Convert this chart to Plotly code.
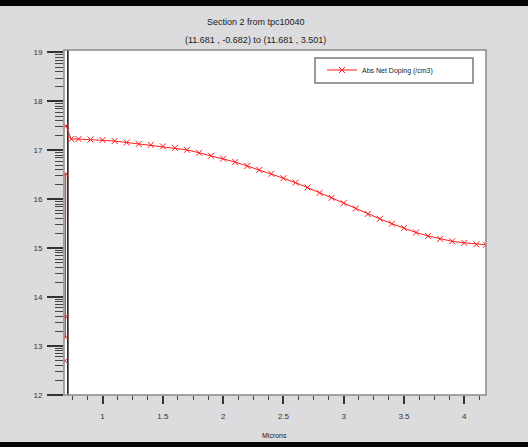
import math
import plotly.graph_objects as go

# Cut-line profile: position along the cut (microns) and log10 of |net doping|
microns = [0.688, 0.690, 0.691, 0.692, 0.694, 0.695, 0.697,
           0.74, 0.80, 0.90, 1.00, 1.10, 1.20, 1.30, 1.40, 1.50, 1.60, 1.70,
           1.80, 1.90, 2.00, 2.10, 2.20, 2.30, 2.40, 2.50, 2.60, 2.70, 2.80,
           2.90, 3.00, 3.10, 3.20, 3.30, 3.40, 3.50, 3.60, 3.70, 3.80, 3.90,
           4.00, 4.10, 4.18]
log_doping = [12.70, None, 13.18, 13.60, 16.52, None, 17.50,
              17.23, 17.23, 17.22, 17.21, 17.19, 17.16, 17.13, 17.11, 17.08,
              17.05, 17.01, 16.95, 16.89, 16.83, 16.76, 16.68, 16.60, 16.52,
              16.43, 16.34, 16.24, 16.13, 16.03, 15.92, 15.81, 15.70, 15.60,
              15.50, 15.41, 15.32, 15.25, 15.19, 15.14, 15.11, 15.08, 15.07]

# Material interface position along the cut
interface_x = [0.712, 0.712]
interface_y = [12.0, 19.05]

y_major = [12, 13, 14, 15, 16, 17, 18, 19]
y_labels = ["12", "13", "14", "15", "16", "17", "18", "19"]
y_minor = [d + math.log10(k) for d in y_major[:-1] for k in range(2, 10)]

x_major = [1, 1.5, 2, 2.5, 3, 3.5, 4]
x_labels = ["1", "1.5", "2", "2.5", "3", "3.5", "4"]

W, H = 528, 447
L, R, T, B = 64, 42, 50, 52
PW, PH = W - L - R, H - T - B


def px(xp):
    return (xp - L) / PW


def py(yp):
    return (H - B - yp) / PH


FONT = "Arial, Liberation Sans, sans-serif"
RED = "#ff1a1a"
GRAY_BG = "#dcdbde"

fig = go.Figure()

fig.add_trace(go.Scatter(
    x=interface_x, y=interface_y, mode="lines",
    line=dict(color="#111111", width=1.5),
    showlegend=False, hoverinfo="skip",
))

fig.add_trace(go.Scatter(
    x=microns, y=log_doping, mode="lines+markers",
    name="Abs Net Doping (/cm3)",
    line=dict(color=RED, width=1),
    marker=dict(symbol="x-thin", size=6, color=RED,
                line=dict(color=RED, width=1)),
    connectgaps=False,
))

fig.update_xaxes(
    range=[0.68, 4.18],
    tickmode="array", tickvals=x_major, ticktext=x_labels,
    ticks="outside", ticklen=8, tickwidth=1.5, tickcolor="#333333",
    minor=dict(dtick=0.125, tick0=0, ticks="outside", ticklen=4,
               tickwidth=1, tickcolor="#444444", showgrid=False),
    showgrid=False, zeroline=False, showline=False,
    tickfont=dict(family=FONT, size=8, color="#333333"),
    ticklabelstandoff=5,
)

fig.update_yaxes(
    range=[12.0, 19.05],
    tickmode="array", tickvals=y_major, ticktext=y_labels,
    ticks="outside", ticklen=16, tickwidth=2, tickcolor="#333333",
    minor=dict(tickmode="array", tickvals=y_minor, ticks="outside",
               ticklen=8, tickwidth=1, tickcolor="#444444", showgrid=False),
    showgrid=False, zeroline=False, showline=False,
    tickfont=dict(family=FONT, size=8, color="#333333"),
    ticklabelstandoff=3,
)

shapes = [
    # plot frame
    dict(type="rect", xref="paper", yref="paper", x0=0, x1=1, y0=0, y1=1,
         line=dict(color="#8a8a8a", width=1.5)),
    # legend box
    dict(type="rect", xref="paper", yref="paper",
         x0=px(315), x1=px(473), y0=py(83), y1=py(58),
         line=dict(color="#7a7a7a", width=1.5), fillcolor="white",
         layer="below"),
    # window bars
    dict(type="rect", xref="paper", yref="paper",
         x0=px(0), x1=px(W), y0=py(6), y1=py(-2),
         line=dict(width=0), fillcolor="#050505"),
    dict(type="rect", xref="paper", yref="paper",
         x0=px(0), x1=px(W), y0=py(H + 2), y1=py(442),
         line=dict(width=0), fillcolor="#050505"),
]

annotations = [
    dict(text="Section 2 from tpc10040", x=px(256), y=py(22),
         xref="paper", yref="paper", showarrow=False,
         xanchor="center", yanchor="middle",
         font=dict(family=FONT, size=9, color="#222222")),
    dict(text="(11.681 , -0.682) to (11.681 , 3.501)", x=px(255), y=py(40),
         xref="paper", yref="paper", showarrow=False,
         xanchor="center", yanchor="middle",
         font=dict(family=FONT, size=9, color="#222222")),
    dict(text="Microns", x=px(274), y=py(436),
         xref="paper", yref="paper", showarrow=False,
         xanchor="center", yanchor="middle",
         font=dict(family=FONT, size=7, color="#222222")),
]

fig.update_layout(
    width=W, height=H,
    margin=dict(l=L, r=R, t=T, b=B, pad=0),
    paper_bgcolor=GRAY_BG, plot_bgcolor="white",
    shapes=shapes, annotations=annotations,
    showlegend=True,
    legend=dict(x=px(322), y=py(70), xanchor="left", yanchor="middle",
                bgcolor="rgba(0,0,0,0)", borderwidth=0,
                font=dict(family=FONT, size=7, color="#222222"),
                itemwidth=30),
    font=dict(family=FONT),
)

fig.write_html("out.html")
